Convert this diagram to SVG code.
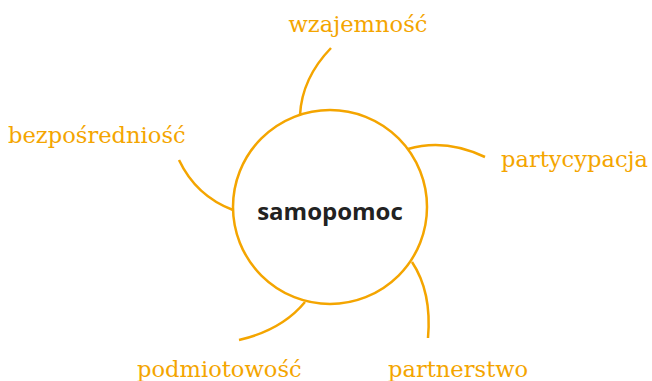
<svg xmlns="http://www.w3.org/2000/svg" width="652" height="381" viewBox="0 0 652 381">
<style>
.lbl{font-family:"DejaVu Serif","Liberation Serif",serif;font-size:22.6px;fill:#F4A500}
.con{fill:none;stroke:#F4A500;stroke-width:2.5;stroke-linecap:butt}
.ctr{font-family:"Open Sans","Noto Sans",sans-serif;font-weight:700;font-size:24px;fill:#222}
</style>
<rect width="652" height="381" fill="#fff"/>
<g id="connectors">
<path class="con" d="M300,115 Q302,78 331,48"/>
<path class="con" d="M233,210 Q196,196 179,160"/>
<path class="con" d="M408,149 Q445,138 485,157"/>
<path class="con" d="M305,302 Q282,330 239,340"/>
<path class="con" d="M412,262 Q432,292 428,338"/>
</g>
<g id="samopomoc">
<circle cx="330" cy="207" r="97" fill="#fff" stroke="#F4A500" stroke-width="2.5"/>
<text class="ctr" x="330" y="220" text-anchor="middle">samopomoc</text>
</g>
<g id="wzajemnosc"><text class="lbl" x="358" y="32" text-anchor="middle">wzajemność</text></g>
<g id="bezposredniosc"><text class="lbl" x="8" y="143">bezpośredniość</text></g>
<g id="partycypacja"><text class="lbl" x="501" y="167">partycypacja</text></g>
<g id="podmiotowosc"><text class="lbl" x="137" y="377">podmiotowość</text></g>
<g id="partnerstwo"><text class="lbl" x="388" y="377">partnerstwo</text></g>
</svg>
